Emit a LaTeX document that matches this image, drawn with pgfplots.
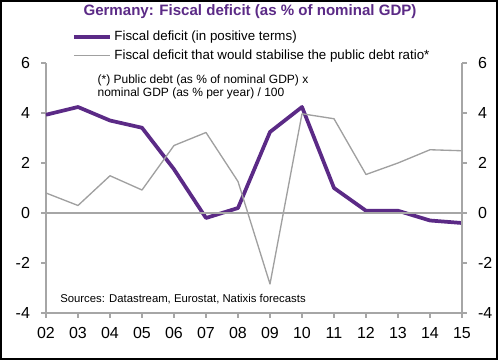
\documentclass[border=0pt]{standalone}
\usepackage{pgfplots}
\pgfplotsset{compat=1.18}
\usepackage{fontspec}
\setmainfont{Liberation Sans}
\definecolor{fpurple}{HTML}{5B2A86}
\definecolor{fgray}{HTML}{A0A0A0}
\definecolor{axgray}{HTML}{A6A6A6}
\pgfplotstableread{
x deficit stab
0 3.93 0.80
1 4.24 0.30
2 3.70 1.49
3 3.41 0.92
4 1.75 2.70
5 -0.20 3.22
6 0.20 1.26
7 3.24 -2.84
8 4.24 3.97
9 1.00 3.77
10 0.09 1.54
11 0.09 2.00
12 -0.30 2.53
13 -0.40 2.49
}\datatable
\begin{document}
\begin{tikzpicture}
\begin{axis}[
  scale only axis, width=312pt, height=187.5pt,
  xmin=0, xmax=13, ymin=-4, ymax=6,
  axis x line*=bottom, axis y line*=left,
  axis line style={axgray, line width=0.9pt},
  xtick=data,
  xticklabels={02,03,04,05,06,07,08,09,10,11,12,13,14,15},
  ytick={-4,-2,0,2,4,6},
  tick style={axgray, line width=0.9pt},
  tick align=outside, major tick length=3.5pt,
  tick label style={font=\fontsize{12}{14}\selectfont, black},
  /pgf/number format/assume math mode=true,
  yticklabel style={xshift=-5pt},
  xticklabel style={yshift=-4pt},
  clip=false,
  legend style={at={(0.062,1.14)}, anchor=north west, draw=none, fill=none,
    font=\fontsize{10}{11}\selectfont, row sep=1.5pt, inner sep=0pt,
    /tikz/every even column/.append style={column sep=7pt}},
  legend cell align=left,
  legend image code/.code={\draw[#1] (0pt,0pt) -- (27pt,0pt);},
]
\addplot[fpurple, line width=2.8pt, line join=round] table[x=x,y=deficit]{\datatable};
\addlegendentry{Fiscal deficit (in positive terms)}
\addplot[fgray, line width=1pt, line join=round] table[x=x,y=stab]{\datatable};
\addlegendentry{Fiscal deficit that would stabilise the public debt ratio*}
\draw[axgray, line width=0.9pt] (axis cs:0,0) -- (axis cs:13,0);
\node[anchor=north west, align=left, font=\fontsize{9}{10}\selectfont, inner sep=0pt]
  at ([xshift=38.5pt,yshift=-8.5pt]rel axis cs:0,1) {(*) Public debt (as \% of nominal GDP) x\\nominal GDP (as \% per year) / 100};
\node[anchor=west, font=\fontsize{8.5}{10}\selectfont, inner sep=0pt]
  at ([xshift=10.5pt,yshift=10.5pt]rel axis cs:0,0) {Sources: Datastream, Eurostat, Natixis forecasts};
\node[font=\bfseries\fontsize{11.3}{13}\selectfont, text=fpurple, inner sep=0pt]
  at ([xshift=153pt,yshift=225.75pt]rel axis cs:0,0) {Germany: Fiscal deficit (as \% of nominal GDP)};
\path ([xshift=-34.5pt,yshift=-36pt]rel axis cs:0,0) rectangle ([xshift=340.5pt,yshift=234.75pt]rel axis cs:0,0);
\draw[black, line width=1.2pt] ([xshift=-33.75pt,yshift=-34.5pt]rel axis cs:0,0) rectangle ([xshift=338.25pt,yshift=234pt]rel axis cs:0,0);
\end{axis}
\begin{axis}[
  scale only axis, width=312pt, height=187.5pt,
  xmin=0, xmax=13, ymin=-4, ymax=6,
  axis x line=none, axis y line*=right,
  axis line style={axgray, line width=0.9pt},
  ytick={-4,-2,0,2,4,6},
  tick style={axgray, line width=0.9pt},
  tick align=outside, major tick length=3.5pt,
  tick label style={font=\fontsize{12}{14}\selectfont, black},
  /pgf/number format/assume math mode=true,
  yticklabel style={xshift=5pt},
]
\end{axis}
\end{tikzpicture}
\end{document}
